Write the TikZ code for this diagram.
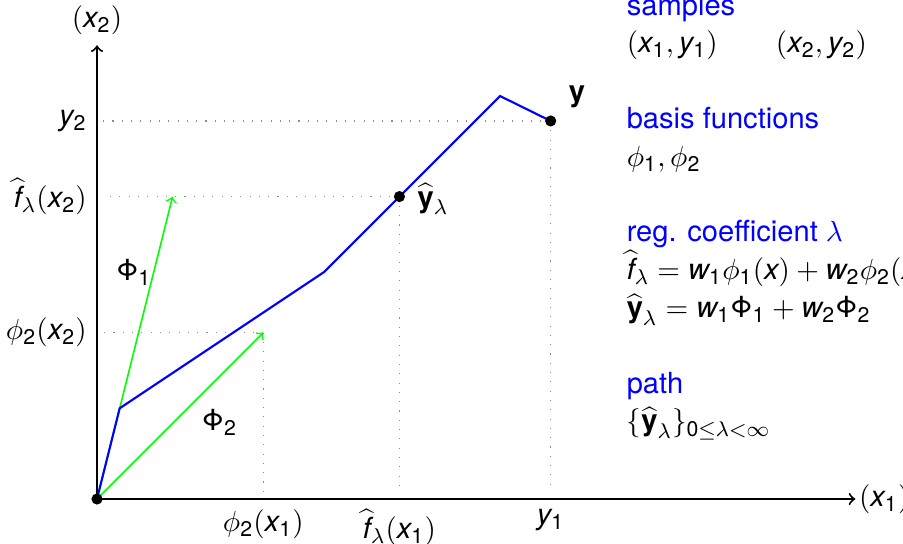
\documentclass[tikz,border=0pt,11pt]{standalone}
\usepackage{mathspec}
\setmainfont{TeX Gyre Heros}
\setmathsfont(Digits,Latin)[Scale=MatchLowercase]{TeX Gyre Heros}
\usetikzlibrary{positioning}
\newcommand{\vecy}{\textbf{y}}
\newcommand{\BigPhi}{\textrm{Φ}}
\definecolor{PathBlue}{HTML}{0000FF}
\definecolor{VecGreen}{HTML}{00FF00}
\definecolor{GuideGray}{HTML}{8C8C8C}
\tikzset{
  axisline/.style={->,line width=0.75pt,draw=black},
  pathline/.style={line width=0.8pt,draw=PathBlue},
  basisvec/.style={->,line width=0.6pt,draw=VecGreen},
  guide/.style={draw=GuideGray,line width=0.5pt,dash pattern=on 0.4pt off 3.1pt},
  ptdot/.style={circle,fill=black,inner sep=0pt,minimum size=4.2pt},
  headtxt/.style={text=PathBlue,inner sep=0pt,anchor=base west},
  bodytxt/.style={inner sep=0pt,anchor=base west}
}

\begin{document}
\begin{tikzpicture}
    \useasboundingbox (-1.283,-0.582) rectangle (10.66,6.60);
    % points of the plane
    \coordinate (O) at (0,0);
    \coordinate (xend) at (10.03,0);
    \coordinate (yend) at (0,6);
    \coordinate (phione) at (1,4);
    \coordinate (phitwo) at (2.2,2.2);
    \coordinate (kone) at (0.3,1.2);
    \coordinate (ktwo) at (3,3);
    \coordinate (kthree) at (5.33,5.33);
    \coordinate (yhat) at (4,4);
    \coordinate (y) at (6,5);

    % guide lines
    \draw[guide] (y) -- ([xshift=0.08cm]y -| O);
    \draw[guide] (yhat) -- ([xshift=0.08cm]yhat -| O);
    \draw[guide] (phitwo) -- ([xshift=0.08cm]phitwo -| O);
    \draw[guide] (y) -- ([yshift=0.1cm]y |- O);
    \draw[guide] (yhat) -- ([yshift=0.1cm]yhat |- O);
    \draw[guide] (phitwo) -- ([yshift=0.1cm]phitwo |- O);

    % axes
    \draw[axisline] (O) -- (xend) node[right,inner sep=1pt] (xlab) {$(x_1)$};
    \draw[axisline] (O) -- (yend) node[above] (ylab) {$(x_2)$};

    \node[left] (ytwo) at (y -| O) {$y_2$};
    \node[left] (fxtwo) at (yhat -| O) {$\widehat{f}_\lambda(x_2)$};
    \node[left] (phixtwo) at (phitwo -| O) {$\phi_2(x_2)$};
    \node[below] (phixone) at (phitwo |- O) {$\phi_2(x_1)$};
    \node[below] (fxone) at (yhat |- O) {$\widehat{f}_\lambda(x_1)$};
    \node[below] (yone) at (y |- O) {$y_1$};

    % basis vectors
    \draw[basisvec] (O) -- (phione) node[pos=0.75,left=0.5pt,inner sep=0pt] (Phione) {$\BigPhi_1$};
    \draw[basisvec] (O) -- (phitwo) node[pos=0.6,below right=0pt and -2pt] (Phitwo) {$\BigPhi_2$};

    % regularisation path
    \draw[pathline] (O) -- (kone) -- (ktwo) -- (kthree) -- (y);

    \node[ptdot] (Odot) at (O) {};
    \node[ptdot] (yhatdot) at (yhat) {};
    \node[ptdot] (ydot) at (y) {};
    \node[right=3pt,yshift=-1pt] (yhatlab) at (yhat) {$\widehat{\vecy}_\lambda$};
    \node[above right=1pt and 3pt] (ylabel) at (y) {$\vecy$};

    % legend on the right
    \node[headtxt] (samples) at (7,6.4) {samples};
    \node[below=0.5cm of samples.base west,bodytxt] (pairs) {$(x_1,y_1)$\qquad$(x_2,y_2)$};
    \node[below=1cm of pairs.base west,headtxt] (basis) {basis functions};
    \node[below=0.5cm of basis.base west,bodytxt] (phis) {$\phi_1,\phi_2$};
    \node[below=1cm of phis.base west,headtxt] (reg) {reg. coefficient $\lambda$};
    \node[below=0.5cm of reg.base west,bodytxt] (fdef) {$\widehat{f}_\lambda = w_1\phi_1(x) + w_2\phi_2(x)$};
    \node[below=0.5cm of fdef.base west,bodytxt] (ydef) {$\widehat{\vecy}_\lambda = w_1\BigPhi_1 + w_2\BigPhi_2$};
    \node[below=1cm of ydef.base west,headtxt] (path) {path};
    \node[below=0.5cm of path.base west,bodytxt] (pathset) {$\{\widehat{\vecy}_\lambda\}_{0\leq\lambda<\infty}$};
\end{tikzpicture}
\end{document}
